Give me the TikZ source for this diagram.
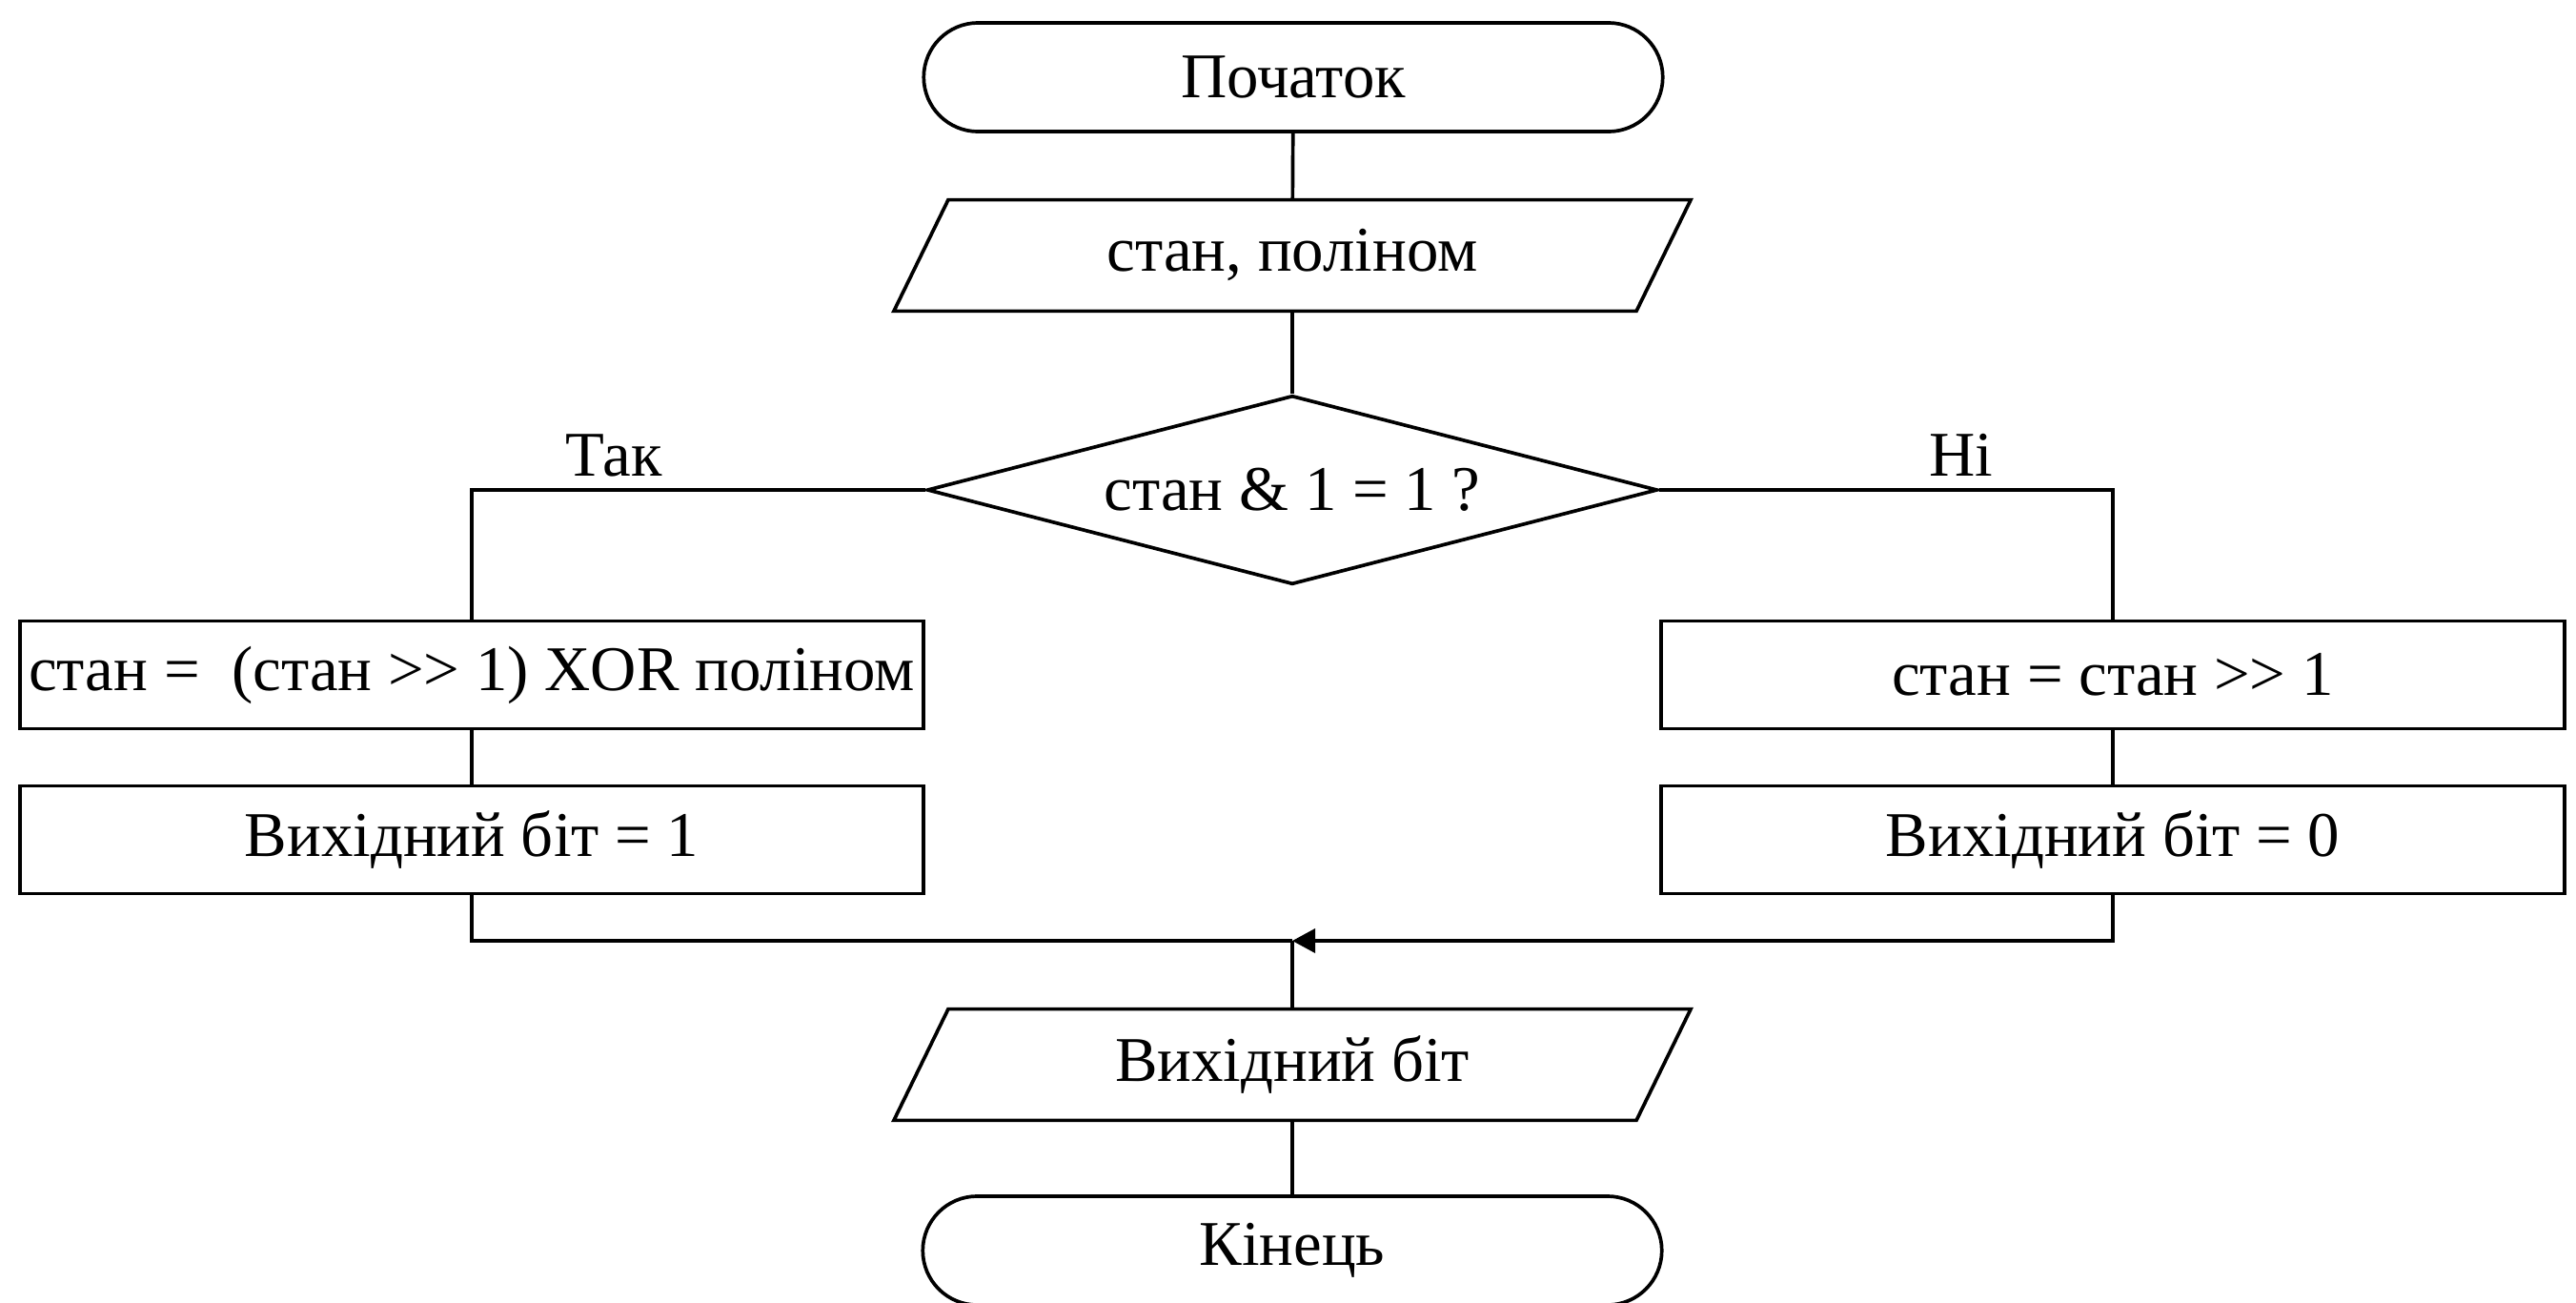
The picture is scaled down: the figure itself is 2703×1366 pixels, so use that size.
\documentclass[tikz,border=0pt]{standalone}
\usepackage{fontspec}
\setmainfont{Liberation Serif}
\usetikzlibrary{shapes.geometric,shapes.misc,arrows.meta}

% a parallelogram drawn around a named rectangular node
\newcommand{\ioframe}[1]{%
  \draw ([xshift=0.285cm]#1.north west) -- ([xshift=0.285cm]#1.north east)
        -- ([xshift=-0.285cm]#1.south east) -- ([xshift=-0.285cm]#1.south west) -- cycle;}

\begin{document}
\begin{tikzpicture}[x=0.01cm, y=-0.01cm, line width=1.05pt,
  every node/.style={font=\fontsize{19}{23}\selectfont, inner sep=0pt},
  term/.style={draw, rounded rectangle, minimum width=7.75cm, minimum height=1.14cm},
  io/.style={rectangle, minimum width=7.75cm, minimum height=1.13cm},
  decision/.style={draw, diamond, aspect=3.87, minimum width=7.66cm, minimum height=1.98cm},
  proc/.style={draw, rectangle, minimum width=9.48cm, minimum height=1.13cm},
  branchlabel/.style={anchor=base},
  flow/.style={draw},
  mergearrow/.style={draw, -{Triangle[length=0.24cm, width=0.25cm]}}]

  % page frame
  \fill[white] (0,0) rectangle (2703,1366);
  \useasboundingbox (0,0) rectangle (2703,1366);

  % main column
  \node[term] (start) at (1357,81) {Початок};
  \node[io] (inp) at (1356,268) {стан, поліном};
  \ioframe{inp}
  \node[decision] (dec) at (1356,514) {стан \& 1 = 1 ?};

  % left branch
  \node[proc] (l1) at (495,708) {стан = ~(стан >{}> 1) XOR поліном};
  \node[proc] (l2) at (495,881) {Вихідний біт = 1};

  % right branch
  \node[proc] (r1) at (2217,708) {стан = стан >{}> 1};
  \node[proc] (r2) at (2217,881) {Вихідний біт = 0};

  % output and end
  \node[io] (out) at (1356,1117) {Вихідний біт};
  \ioframe{out}
  \node[term] (stop) at (1356,1312) {Кінець};

  \coordinate (merge) at (1356,987);

  % branch labels
  \node[branchlabel] (yes) at (644,499) {Так};
  \node[branchlabel] (no) at (2058,499) {Ні};

  % connectors
  \path[flow] (start) -- (inp);
  \path[flow] (inp) -- (dec);
  \path[flow] (dec.west) -| (l1.north);
  \path[flow] (dec.east) -| (r1.north);
  \path[flow] (l1) -- (l2);
  \path[flow] (r1) -- (r2);
  \path[flow] (l2.south) |- (merge);
  \path[mergearrow] (r2.south) |- (merge);
  \path[flow] (merge) -- (out);
  \path[flow] (out) -- (stop);
\end{tikzpicture}
\end{document}
